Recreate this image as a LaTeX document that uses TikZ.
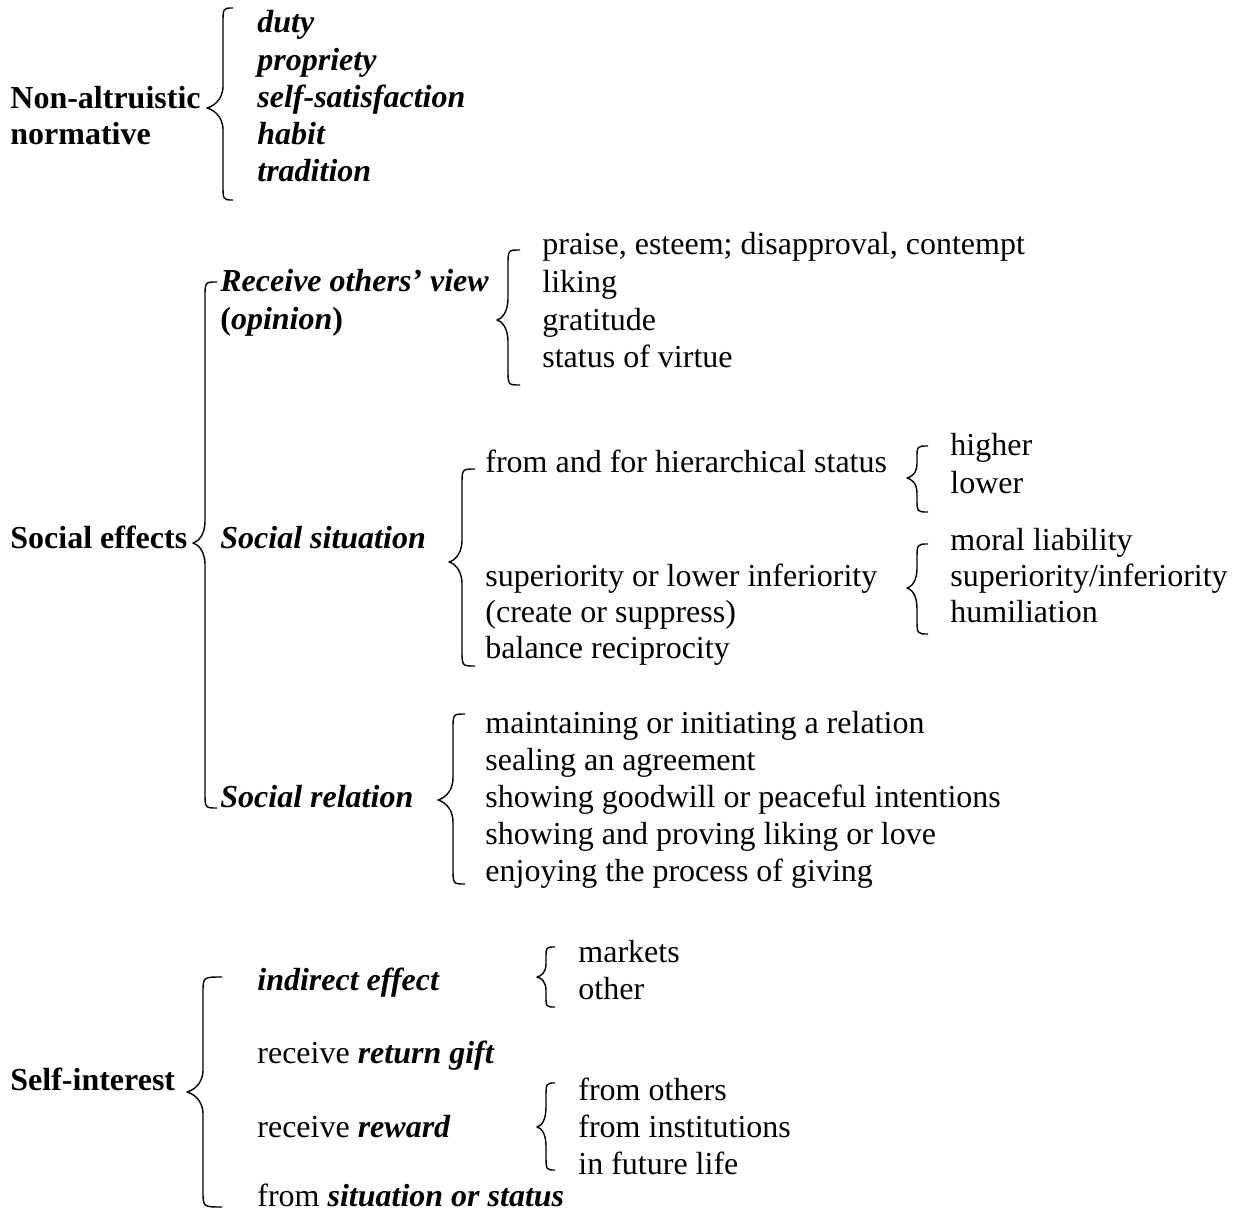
\documentclass[tikz,border=0pt]{standalone}
\usepackage{fontspec}
\setmainfont{Liberation Serif}
\newcommand{\bigf}{\fontsize{16}{18}\selectfont}
\newcommand{\bi}[1]{\textbf{\textit{#1}}}
% curly brace: tip x, line x, hook x, top y, tip y, bottom y
\newcommand{\grpbrace}[6]{%
  \pgfmathsetmacro{\bhA}{min(16,0.4*(#5-#4))}%
  \pgfmathsetmacro{\btA}{min(22,0.45*(#5-#4))}%
  \pgfmathsetmacro{\bhB}{min(16,0.4*(#6-#5))}%
  \pgfmathsetmacro{\btB}{min(22,0.45*(#6-#5))}%
  \draw[grpline] (#3,#4) .. controls (#2,#4) .. (#2,#4+\bhA)
     -- (#2,#5-\btA) .. controls (#2,#5-0.3*\btA) and (#1+4,#5-1) .. (#1,#5)
     .. controls (#1+4,#5+1) and (#2,#5+0.3*\btB) .. (#2,#5+\btB)
     -- (#2,#6-\bhB) .. controls (#2,#6) .. (#3,#6);}

\begin{document}
\begin{tikzpicture}[x=0.5pt,y=-0.5pt,
  grpline/.style={line width=0.7pt,line join=round},
  lbl/.style={anchor=base west,inner sep=0pt,font=\bigf\bfseries},
  sub/.style={anchor=base west,inner sep=0pt,font=\bigf\bfseries\itshape},
  itm/.style={anchor=base west,inner sep=0pt,font=\bigf}]
\useasboundingbox (0,0) rectangle (1248,1214);

% ---------------- non-altruistic normative ----------------
\node[lbl] (nonalt) at (10,109) {Non-altruistic};
\node[lbl] (normat) at (10,145) {normative};
\grpbrace{207}{223}{233}{8}{108}{200}
\foreach \txt [count=\i from 0] in {duty,propriety,self-satisfaction,habit,tradition}
  \node[sub] (norm\i) at (257,33+37.2*\i) {\txt};

% ---------------- social effects ----------------
\node[lbl] (soceff) at (10,548) {Social effects};
\grpbrace{193}{205}{217}{282}{543}{808}

% receive others' view
\node[sub] (recv) at (220,292) {Receive others’ view};
\node[lbl] (opin) at (220,329) {(\textit{opinion})};
\grpbrace{497}{508}{520}{250}{320}{385}
\foreach \txt [count=\i from 0] in {{praise, esteem; disapproval, contempt},liking,gratitude,status of virtue}
  \node[itm] (view\i) at (542,255+37.5*\i) {\txt};

% social situation
\node[sub] (socsit) at (220,548) {Social situation};
\grpbrace{449}{462}{475}{469}{562}{666}
\node[itm] (hier) at (485,472) {from and for hierarchical status};
\node[itm] (supinf) at (485,586) {superiority or lower inferiority};
\node[itm] (creat) at (485,622) {(create or suppress)};
\node[itm] (recip) at (485,658) {balance reciprocity};
\grpbrace{907}{917}{928}{446}{478}{512}
\node[itm] (higher) at (950,455) {higher};
\node[itm] (lower) at (950,493) {lower};
\grpbrace{907}{917}{928}{544}{588}{634}
\foreach \txt [count=\i from 0] in {moral liability,superiority/inferiority,humiliation}
  \node[itm] (liab\i) at (950,550+36*\i) {\txt};

% social relation
\node[sub] (socrel) at (220,807) {Social relation};
\grpbrace{438}{453}{465}{714}{800}{884}
\foreach \txt [count=\i from 0] in {maintaining or initiating a relation,sealing an agreement,
    showing goodwill or peaceful intentions,showing and proving liking or love,
    enjoying the process of giving}
  \node[itm] (rel\i) at (485,733+37*\i) {\txt};

% ---------------- self-interest ----------------
\node[lbl] (selfint) at (10,1090) {Self-interest};
\grpbrace{187}{203}{222}{977}{1092}{1207}
\node[sub] (indir) at (257,990) {indirect effect};
\node[itm] (retgift) at (257,1063) {receive \bi{return gift}};
\node[itm] (reward) at (257,1137) {receive \bi{reward}};
\node[itm] (situ) at (257,1206) {from \bi{situation or status}};
\grpbrace{537}{546}{555}{947}{977}{1007}
\node[itm] (mkt) at (578,962) {markets};
\node[itm] (other) at (578,999) {other};
\grpbrace{537}{546}{555}{1083}{1127}{1170}
\foreach \txt [count=\i from 0] in {from others,from institutions,in future life}
  \node[itm] (rew\i) at (578,1100+37*\i) {\txt};
\end{tikzpicture}
\end{document}
